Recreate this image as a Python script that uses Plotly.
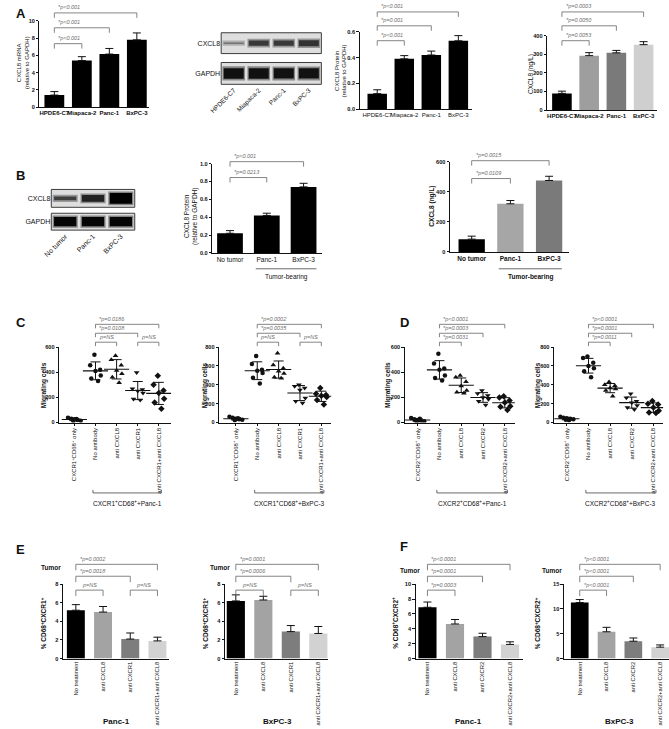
import numpy as np
import plotly.graph_objects as go

W, H = 669, 729
FONT = "Liberation Sans, Arial, sans-serif"
INK = "#111111"
GREY_LINE = "#666666"

# ---------------- data ----------------
# A: cell lines
cell_lines = ["HPDE6-C7", "Miapaca-2", "Panc-1", "BxPC-3"]
mrna = [1.4, 5.4, 6.15, 7.8]
mrna_sd = [0.4, 0.45, 0.65, 0.8]
protein_a = [0.12, 0.39, 0.42, 0.53]
protein_a_sd = [0.03, 0.025, 0.03, 0.04]
elisa_a = [90, 293, 308, 352]
elisa_a_sd = [12, 16, 13, 16]
blot_a_cxcl8 = [0.5, 0.75, 0.75, 0.78]   # band darkness 0-1
blot_a_gapdh = [0.93, 0.93, 0.92, 0.92]

# B: mice
mouse_groups = ["No tumor", "Panc-1", "BxPC-3"]
protein_b = [0.22, 0.42, 0.74]
protein_b_sd = [0.03, 0.025, 0.04]
elisa_b = [85, 320, 475]
elisa_b_sd = [20, 22, 28]
blot_b_cxcl8 = [0.72, 0.85, 1.0]
blot_b_gapdh = [0.97, 0.97, 0.97]

# C, D: migrating cells (7 wells per group)
mig_r1 = ["CXCR1<sup>+</sup>CD68<sup>+</sup> only", "No antibody", "anti CXCL8",
          "anti CXCR1", "anti CXCR1+anti CXCL8"]
mig_r2 = ["CXCR2<sup>+</sup>CD68<sup>+</sup> only", "No antibody", "anti CXCL8",
          "anti CXCR2", "anti CXCR2+anti CXCL8"]
c_panc = [
    [38, 30, 25, 20, 15, 12, 28],
    [540, 455, 420, 410, 375, 350, 330],
    [532, 500, 455, 415, 388, 360, 316],
    [398, 268, 262, 250, 235, 188, 180],
    [372, 300, 255, 235, 190, 160, 110],
]
c_bxpc = [
    [60, 50, 40, 35, 30, 25, 45],
    [705, 620, 560, 550, 525, 475, 415],
    [735, 610, 575, 545, 520, 480, 470],
    [400, 385, 365, 345, 260, 225, 208],
    [365, 305, 292, 285, 270, 240, 190],
]
d_panc = [
    [35, 25, 20, 15, 10, 5, 30],
    [548, 470, 430, 420, 375, 355, 335],
    [375, 360, 325, 290, 255, 240, 232],
    [255, 230, 215, 200, 185, 170, 140],
    [210, 200, 175, 160, 130, 125, 100],
]
d_bxpc = [
    [60, 50, 45, 40, 35, 30, 25],
    [700, 685, 635, 600, 575, 545, 480],
    [430, 400, 390, 365, 355, 340, 278],
    [305, 262, 225, 210, 180, 160, 138],
    [228, 200, 190, 160, 125, 105, 100],
]
jitter = [-0.05, -0.25, 0.22, 0.0, 0.25, -0.2, 0.12]
jitter_ctrl = [-0.3, -0.15, 0.0, 0.15, 0.3, -0.05, 0.1]

# E, F: % positive macrophages in tumors
e_groups = ["No treatment", "anti CXCL8", "anti CXCR1", "anti CXCR1+anti CXCL8"]
f_groups = ["No treatment", "anti CXCL8", "anti CXCR2", "anti CXCR2+anti CXCL8"]
e_panc = [5.2, 5.0, 2.1, 1.9]
e_panc_sd = [0.6, 0.6, 0.65, 0.4]
e_bxpc = [6.2, 6.3, 2.9, 2.7]
e_bxpc_sd = [0.65, 0.4, 0.65, 0.75]
f_panc = [6.9, 4.65, 2.95, 1.9]
f_panc_sd = [0.7, 0.6, 0.45, 0.35]
f_bxpc = [11.3, 5.4, 3.5, 2.3]
f_bxpc_sd = [0.6, 0.9, 0.65, 0.45]

# comparisons (i, j, label)
p_a_mrna = [(0, 1, "*p<0.001"), (0, 2, "*p<0.001"), (0, 3, "*p<0.001")]
p_a_prot = [(0, 1, "*p<0.001"), (0, 2, "*p=0.001"), (0, 3, "*p<0.001")]
p_a_elisa = [(0, 1, "*p=0.0053"), (0, 2, "*p=0.0050"), (0, 3, "*p=0.0003")]
p_b_prot = [(0, 1, "*p=0.0213"), (0, 2, "*p<0.001")]
p_b_elisa = [(0, 1, "*p=0.0109"), (0, 2, "*p=0.0015")]
p_c_panc = [(1, 2, "p=NS"), (3, 4, "p=NS"), (1, 3, "*p=0.0108"), (1, 4, "*p=0.0186")]
p_c_bxpc = [(1, 2, "p=NS"), (3, 4, "p=NS"), (1, 3, "*p=0.0035"), (1, 4, "*p=0.0002")]
p_d_panc = [(1, 2, "*p=0.0031"), (1, 3, "*p=0.0003"), (1, 4, "*p<0.0001")]
p_d_bxpc = [(1, 2, "*p=0.0011"), (1, 3, "*p=0.0001"), (1, 4, "*p<0.0001")]
p_e_panc = [(0, 1, "p=NS"), (2, 3, "p=NS"), (0, 2, "*p=0.0018"), (0, 3, "*p=0.0002")]
p_e_bxpc = [(0, 1, "p=NS"), (2, 3, "p=NS"), (0, 2, "*p=0.0006"), (0, 3, "*p=0.0001")]
p_f_panc = [(0, 1, "*p=0.0003"), (0, 2, "*p=0.0001"), (0, 3, "*p<0.0001")]
p_f_bxpc = [(0, 1, "*p<0.0001"), (0, 2, "*p<0.0001"), (0, 3, "*p<0.0001")]

# ---------------- figure scaffolding ----------------
layout = dict(
    width=W, height=H, margin=dict(l=0, r=0, t=0, b=0),
    paper_bgcolor="white", plot_bgcolor="rgba(0,0,0,0)",
    showlegend=False, barmode="overlay",
    font=dict(family=FONT, size=7, color=INK),
)
# pixel-space overlay used for brackets and small annotations
layout["yaxis60"] = dict(domain=[0, 1], range=[H, 0], visible=False, anchor="x", fixedrange=True)
traces, annotations, shapes = [], [], []
count = [0]


def axes(box, xr, yr):
    count[0] += 1
    s = "" if count[0] == 1 else str(count[0])
    x0, x1, yt, yb = box
    layout["xaxis" + s] = dict(domain=[x0 / W, x1 / W], range=xr, anchor="y" + s,
                               showgrid=False, zeroline=False, fixedrange=True)
    layout["yaxis" + s] = dict(domain=[1 - yb / H, 1 - yt / H], range=yr, anchor="x" + s,
                               showgrid=False, zeroline=False, fixedrange=True)
    return "x" + s, "y" + s


def key(a):
    return ("xaxis" if a[0] == "x" else "yaxis") + a[1:]


def value_axis(ya, ymax, dtick, fmt):
    layout[key(ya)].update(
        range=[0, ymax], tick0=0, dtick=dtick, tickformat=fmt, ticks="outside",
        ticklen=2.5, tickwidth=1, tickcolor=INK, showline=True, linecolor=INK,
        linewidth=1, tickfont=dict(size=5.6, weight="bold"),
    )


def bar_panel(box, xr, cats, vals, sd, colors, ymax, dtick, width, fmt="",
              angle=0, weight="normal", size=6):
    xa, ya = axes(box, xr, [0, ymax])
    n = len(cats)
    traces.append(go.Bar(
        x=list(range(n)), y=vals, width=width,
        marker=dict(color=colors, line=dict(width=0)),
        error_y=dict(type="data", array=sd, arrayminus=[0] * n, symmetric=False,
                     color=INK, thickness=1, width=4),
        xaxis=xa, yaxis=ya, hoverinfo="skip",
    ))
    layout[key(xa)].update(tickvals=list(range(n)), ticktext=cats, tickangle=angle,
                           ticks="", showline=True, linecolor=INK, linewidth=1,
                           tickfont=dict(size=size, weight=weight))
    value_axis(ya, ymax, dtick, fmt)
    return xa


def dot_panel(box, xr, cats, groups, ymax, symbols):
    xa, ya = axes(box, xr, [0, ymax])
    for k, g in enumerate(groups):
        jit = jitter_ctrl if k == 0 else jitter
        traces.append(go.Scatter(
            x=[k + d for d in jit[:len(g)]], y=g, mode="markers",
            marker=dict(symbol=symbols[k], size=4.5 if "circle" in symbols[k] else 5,
                        color=INK, line=dict(width=0)),
            xaxis=xa, yaxis=ya, hoverinfo="skip",
        ))
    means = [float(np.mean(g)) for g in groups]
    sds = [float(np.std(g, ddof=1)) for g in groups]
    traces.append(go.Scatter(
        x=list(range(len(groups))), y=means, mode="markers",
        marker=dict(symbol="line-ew", size=18, line=dict(width=1.1, color=INK)),
        error_y=dict(type="data", array=sds, color=INK, thickness=1, width=5),
        xaxis=xa, yaxis=ya, hoverinfo="skip",
    ))
    layout[key(xa)].update(tickvals=list(range(len(cats))), ticktext=cats, tickangle=-90,
                           ticks="outside", ticklen=2, tickcolor=INK, showline=True,
                           linecolor=INK, linewidth=1, tickfont=dict(size=6))
    value_axis(ya, ymax, 200, "")
    return xa


def brackets(xa, comps, levels, leg=5):
    xs, ys = [], []
    for (i, j, lab), lv in zip(comps, levels):
        xs += [i, i, j, j, None]
        ys += [lv + leg, lv, lv, lv + leg, None]
        star = lab.startswith("*")
        annotations.append(dict(
            x=i if star else (i + j) / 2, y=lv - 0.5, xref=xa, yref="y60",
            text=lab, showarrow=False,
            xanchor="left" if star else "center", yanchor="bottom", xshift=2 if star else 0,
            font=dict(size=5.5, color="#707070", style="italic"),
        ))
    traces.append(go.Scatter(x=xs, y=ys, mode="lines", line=dict(color=GREY_LINE, width=0.8),
                             xaxis=xa, yaxis="y60", hoverinfo="skip"))


def under_line(xa, a, b, y, tick=0):
    xs = [a, a, b, b] if tick else [a, b]
    ys = [y - tick, y, y, y - tick] if tick else [y, y]
    traces.append(go.Scatter(x=xs, y=ys, mode="lines", line=dict(color="#444444", width=0.8),
                             xaxis=xa, yaxis="y60", hoverinfo="skip"))


def grey(level):
    level = int(max(0, min(255, level)))
    return f"rgb({level},{level},{level})"


def blot(bx, strip_c, strip_g, lanes, cx, gp, lane_size):
    n = len(lanes)
    for strip, dark, name, last in [(strip_c, cx, "CXCL8", False), (strip_g, gp, "GAPDH", True)]:
        xa, ya = axes((bx[0], bx[1], strip[0], strip[1]), [-0.5, n - 0.5], [-1, 1])
        core = [1.2 * v ** 3 for v in dark]
        halo = [c + 0.35 for c in core]
        lvl = [230 * (1 - v) for v in dark]
        traces.append(go.Bar(x=list(range(n)), y=halo, base=[-h / 2 for h in halo], width=0.9,
                             marker=dict(color=[grey(215 - (215 - l) * 0.4) for l in lvl],
                                         line=dict(width=0)),
                             xaxis=xa, yaxis=ya, hoverinfo="skip"))
        traces.append(go.Bar(x=list(range(n)), y=core, base=[-c / 2 for c in core], width=0.8,
                             marker=dict(color=[grey(l) for l in lvl], line=dict(width=0)),
                             xaxis=xa, yaxis=ya, hoverinfo="skip"))
        shapes.append(dict(type="rect", xref=xa + " domain", yref=ya + " domain",
                           x0=0, x1=1, y0=0, y1=1, fillcolor="#dedede",
                           line=dict(color="#3c3c3c", width=1), layer="below"))
        layout[key(xa)].update(tickvals=list(range(n)), ticktext=lanes, tickangle=-45,
                               ticks="", showticklabels=last, showline=False,
                               tickfont=dict(size=lane_size))
        layout[key(ya)].update(tickvals=[0], ticktext=[name], ticks="", showline=False,
                               tickfont=dict(size=7))


def text(x, y, s, size=7, bold=False, angle=0, anchor="center"):
    annotations.append(dict(
        x=x / W, y=1 - y / H, xref="paper", yref="paper", text=s, showarrow=False,
        textangle=angle, xanchor=anchor, yanchor="middle",
        font=dict(size=size, weight="bold" if bold else "normal", color=INK),
    ))


# ---------------- panel A ----------------
xa = bar_panel((28, 140, 18, 105), [-0.54, 3.46], cell_lines, mrna, mrna_sd, "black",
               10, 2, 0.72, weight="bold")
brackets(xa, p_a_mrna, [41, 25, 10])
text(11, 60, "CXCL8 mRNA<br>(relative to GAPDH)", size=6, angle=-90)

blot((213, 315), (30, 51), (60, 82), cell_lines, blot_a_cxcl8, blot_a_gapdh, 6.5)

xa = bar_panel((354, 468, 29, 107), [-0.65, 3.49], cell_lines, protein_a, protein_a_sd,
               "black", 0.6, 0.2, 0.72, fmt=".1f")
brackets(xa, p_a_prot, [38, 23, 9])
text(335, 68, "CXCL8 Protein<br>(relative to GAPDH)", size=6, angle=-90)

xa = bar_panel((545, 657, 33, 108), [-0.54, 3.5], cell_lines, elisa_a, elisa_a_sd,
               ["#000000", "#9e9e9e", "#7a7a7a", "#cfcfcf"], 400, 100, 0.72, weight="bold")
brackets(xa, p_a_elisa, [38, 23, 9])
text(529, 72, "CXCL8 (ng/L)", size=6.5, angle=-90)

# ---------------- panel B ----------------
blot((40, 125), (188, 206), (212, 229), mouse_groups, blot_b_cxcl8, blot_b_gapdh, 7)

xa = bar_panel((204, 316, 162, 252), [-0.48, 2.51], mouse_groups, protein_b, protein_b_sd,
               "black", 1.0, 0.2, 0.7, fmt=".1f", size=6.5)
brackets(xa, p_b_prot, [176, 160])
under_line(xa, 0.7, 2.35, 268)
text(280, 276, "Tumor-bearing", size=6.5)
text(182, 215, "CXCL8 Protein<br>(relative to GAPDH)", size=6.5, angle=-90)

xa = bar_panel((446, 567, 160, 251), [-0.56, 2.51], mouse_groups, elisa_b, elisa_b_sd,
               ["#000000", "#a6a6a6", "#7a7a7a"], 600, 200, 0.68, weight="bold", size=6.5)
brackets(xa, p_b_elisa, [177, 159])
under_line(xa, 0.7, 2.33, 268)
text(528, 276, "Tumor-bearing", size=6.5, bold=True)
text(428, 205, "CXCL8 (ng/L)", size=6.5, bold=True, angle=-90)

# ---------------- panels C, D ----------------
sym = ["circle", "circle", "triangle-up", "triangle-down", "diamond"]
for box, xr, cats, groups, ymax, comps, glabel, ytx in [
    ((48, 162, 347, 423), [-0.72, 4.58], mig_r1, c_panc, 600, p_c_panc,
     "CXCR1<sup>+</sup>CD68<sup>+</sup>+Panc-1", 32),
    ((211, 325, 347, 423), [-0.78, 4.46], mig_r1, c_bxpc, 800, p_c_bxpc,
     "CXCR1<sup>+</sup>CD68<sup>+</sup>+BxPC-3", 196),
    ((400, 512, 347, 423), [-0.59, 4.46], mig_r2, d_panc, 600, p_d_panc,
     "CXCR2<sup>+</sup>CD68<sup>+</sup>+Panc-1", 383),
    ((552, 663, 347, 423), [-0.59, 4.45], mig_r2, d_bxpc, 800, p_d_bxpc,
     "CXCR2<sup>+</sup>CD68<sup>+</sup>+BxPC-3", 535),
]:
    xa = dot_panel(box, xr, cats, groups, ymax, sym)
    levels = [342, 333, 324] if len(comps) == 3 else [342, 342, 333, 324]
    brackets(xa, comps, levels, leg=4)
    under_line(xa, 0.88, 4.12, 494, tick=3)
    r0, r1 = xr
    cx = box[0] + (2.5 - r0) / (r1 - r0) * (box[1] - box[0])
    text(cx, 504, glabel, size=6.5)
    text(ytx, 385, "Migrating cells", size=6.5, bold=True, angle=-90)

# ---------------- panels E, F ----------------
bar_cols = ["#000000", "#a3a3a3", "#7d7d7d", "#d2d2d2"]
for box, xr, cats, vals, sd, ymax, dtick, comps, ylab, ytx, tumor_x, tumor_y, bottom in [
    ((52, 160, 586, 661), [-0.47, 3.43], e_groups, e_panc, e_panc_sd, 8, 2, p_e_panc,
     "% CD68<sup>+</sup>CXCR1<sup>+</sup>", 32, 40, 569, "Panc-1"),
    ((217, 322, 586, 661), [-0.39, 3.36], e_groups, e_bxpc, e_bxpc_sd, 8, 2, p_e_bxpc,
     "% CD68<sup>+</sup>CXCR1<sup>+</sup>", 197, 212, 569, "BxPC-3"),
    ((411, 520, 586, 661), [-0.43, 3.46], f_groups, f_panc, f_panc_sd, 10, 2, p_f_panc,
     "% CD68<sup>+</sup>CXCR2<sup>+</sup>", 390, 405, 572, "Panc-1"),
    ((562, 669, 586, 661), [-0.59, 3.33], f_groups, f_bxpc, f_bxpc_sd, 15, 5, p_f_bxpc,
     "% CD68<sup>+</sup>CXCR2<sup>+</sup>", 535, 550, 572, "BxPC-3"),
]:
    xa = bar_panel(box, xr, cats, vals, sd, bar_cols, ymax, dtick, 0.66, angle=-90, size=5.8)
    levels = [592, 578, 566] if len(comps) == 3 else [592, 592, 578, 566]
    brackets(xa, comps, levels, leg=6)
    text(tumor_x, tumor_y, "Tumor", size=6.5, bold=True)
    text(ytx, 625, ylab, size=6.5, bold=True, angle=-90)
    r0, r1 = xr
    cx = box[0] + (1.5 - r0) / (r1 - r0) * (box[1] - box[0])
    text(cx, 724, bottom, size=8, bold=True)

# ---------------- panel letters ----------------
for letter, x, y in [("A", 9, 11), ("B", 9, 174), ("C", 9, 322), ("D", 400, 322),
                     ("E", 9, 551), ("F", 399, 548)]:
    text(x, y, letter, size=13, bold=True)

layout["annotations"] = annotations
layout["shapes"] = shapes
fig = go.Figure(data=traces, layout=layout)
fig.write_html("out.html", config={"displayModeBar": False, "staticPlot": True},
               post_script="document.body.style.margin='0';"
                           "document.body.style.overflow='hidden';")
